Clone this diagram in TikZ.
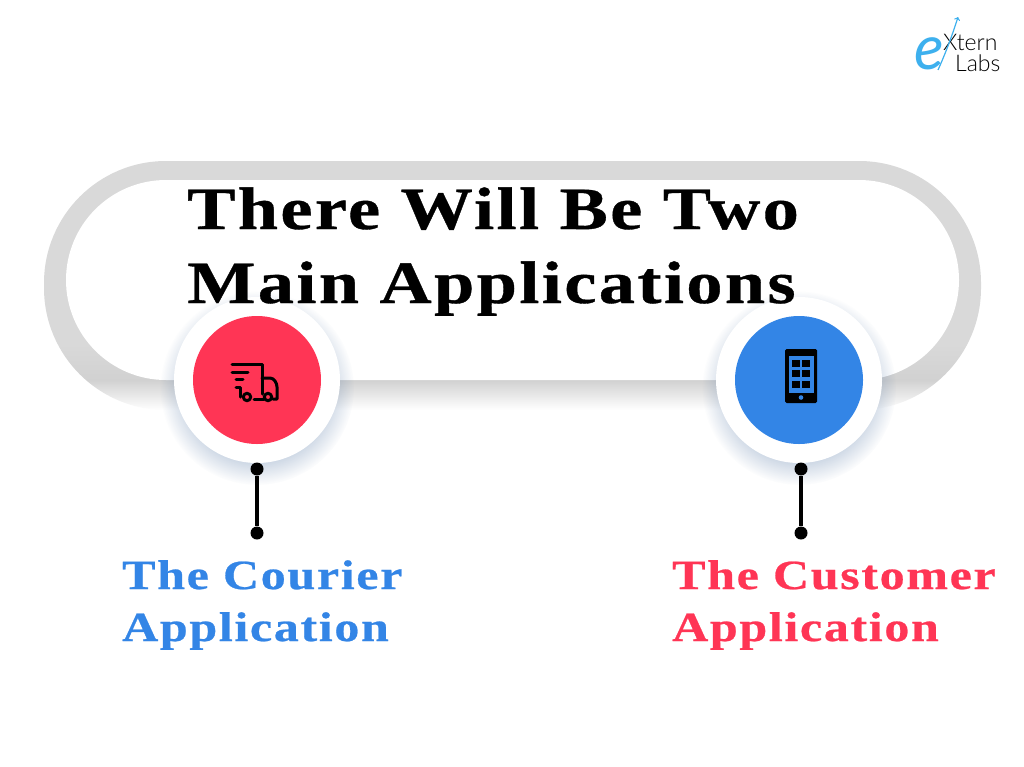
\documentclass[tikz,border=0pt]{standalone}
\usepackage{fontspec}
\setmainfont{Liberation Serif}
\newfontfamily\headfont[FakeStretch=1.205,FakeBold=0.6,LetterSpace=4]{Liberation Serif Bold}
\newfontfamily\logofont{Lato Light}
\newfontfamily\logoifont{Lato}
\usetikzlibrary{fadings}
\definecolor{courierred}{HTML}{FF3555}
\definecolor{customerblue}{HTML}{3385E6}
\definecolor{logoblue}{HTML}{3DB0EE}
\definecolor{haloblue}{HTML}{2F5A92}
\pgfdeclareverticalshading{bandshade}{100bp}{color(0bp)=(white); color(25bp)=(white); color(31bp)=(black!18); color(38bp)=(black!15); color(100bp)=(black!15)}
\tikzfading[name=softhalo,inner color=transparent!0,outer color=transparent!100]
\tikzset{
  headline/.style={font=\headfont\fontsize{60}{60}\selectfont,anchor=base west,inner sep=0pt},
  sublabel/.style={font=\headfont\fontsize{41.5}{41.5}\selectfont,anchor=base west,inner sep=0pt},
  dotnode/.style={circle,fill=black,inner sep=0pt,minimum size=13pt},
  halo/.style={circle,draw=none,fill=white,inner sep=0pt,minimum size=166pt},
  disc/.style={circle,inner sep=0pt,minimum size=128pt},
  glyph/.style={line width=3pt,line cap=round,line join=round}
}
\begin{document}
\begin{tikzpicture}[x=1pt,y=-1pt]
  \useasboundingbox (0,0) rectangle (1024,766);
  \fill[white] (0,0) rectangle (1024,766);

  \shade[shading=bandshade,rounded corners=122pt] (44,161) rectangle (981,410);
  \fill[white,rounded corners=100pt] (66,180) rectangle (959,380);

  \fill[haloblue,path fading=softhalo] (257,388) circle (97);
  \fill[haloblue,path fading=softhalo] (799,388) circle (97);

  \node[halo] (courierhalo) at (257,380) {};
  \node[halo] (customerhalo) at (799,380) {};
  \node[disc,fill=courierred] (courierdisc) at (257,380) {};
  \node[disc,fill=customerblue] (customerdisc) at (799,380) {};

  \draw[glyph] (232,364) -- (262,364) -- (262,394);
  \draw[glyph] (232,372) -- (248,372);
  \draw[glyph] (236,379) -- (243,379);
  \draw[glyph] (262,378) -- (270,378) .. controls (274,378) and (277,383) .. (277,387) -- (277,399) -- (273,399);
  \draw[glyph] (254,399) -- (264,399);
  \draw[glyph] (236,387) -- (240,387) -- (240,397);
  \draw[glyph] (247,397) circle (3.7);
  \draw[glyph] (268,397) circle (3.7);

  \fill[rounded corners=1.5pt] (785,349) rectangle (817,403);
  \fill[customerblue] (788.5,356) rectangle (814,393);
  \foreach \tilex in {792,802} \foreach \tiley in {360,370,381}
    \fill (\tilex,\tiley) rectangle +(8,6.5);
  \fill[customerblue] (801,397.5) circle (2.3);

  \node[headline] (titleone) at (187,229) {There Will Be Two};
  \node[headline] (titletwo) at (187,303) {Main Applications};

  \node[dotnode] (courierstart) at (257,469) {};
  \node[dotnode] (courierend) at (257,533) {};
  \node[dotnode] (customerstart) at (801,469) {};
  \node[dotnode] (customerend) at (801,533) {};
  \draw[line width=3.5pt] (courierstart) -- (courierend);
  \draw[line width=3.5pt] (customerstart) -- (customerend);

  \node[sublabel,text=customerblue] (courierone) at (122,589) {The Courier};
  \node[sublabel,text=customerblue] (couriertwo) at (122,641) {Application};
  \node[sublabel,text=courierred] (customerone) at (672,589) {The Customer};
  \node[sublabel,text=courierred] (customertwo) at (672,641) {Application};

  \node[font=\logoifont\itshape\fontsize{62}{62}\selectfont,text=logoblue,anchor=base west,inner sep=0pt] (logoe) at (914,69) {e};
  \node[font=\logofont\fontsize{23}{23}\selectfont,anchor=base west,inner sep=0pt] (logoxtern) at (943,50) {Xtern};
  \node[font=\logofont\fontsize{23}{23}\selectfont,anchor=base west,inner sep=0pt] (logolabs) at (955,71) {Labs};
  \draw[logoblue,line width=1.2pt,->] (938,70) .. controls (946,52) and (952,36) .. (958,17);
\end{tikzpicture}
\end{document}
